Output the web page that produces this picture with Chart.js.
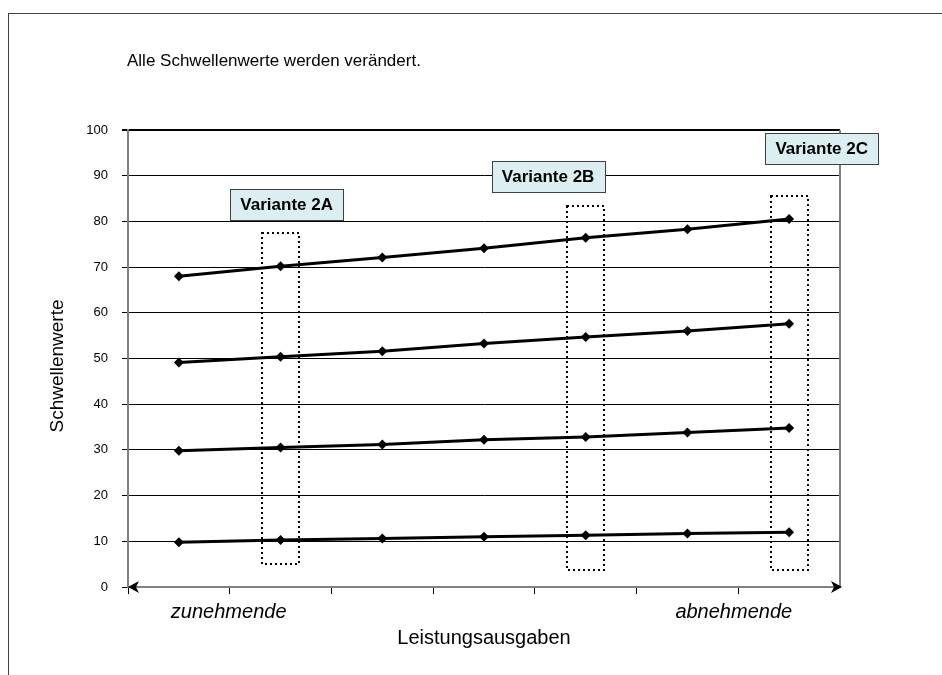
<!DOCTYPE html>
<html><head><meta charset="utf-8">
<script src="https://cdn.jsdelivr.net/npm/chart.js@4.4.1/dist/chart.umd.min.js"></script>
<style>html,body{margin:0;padding:0;background:#fff;}canvas{display:block;}</style>
</head><body>
<canvas id="c" width="942" height="675"></canvas>
<script>
// ---- data ----
const chartTitle = 'Alle Schwellenwerte werden verändert.';
const yAxisTitle = 'Schwellenwerte';
const xAxisTitle = 'Leistungsausgaben';
const categories = ['1', '2', '3', '4', '5', '6', '7'];
const categoryNotes = ['zunehmende', '', '', '', '', '', 'abnehmende'];
const series1 = [68.0, 70.2, 72.1, 74.1, 76.4, 78.3, 80.5];
const series2 = [49.1, 50.4, 51.6, 53.3, 54.7, 56.0, 57.6];
const series3 = [29.8, 30.5, 31.2, 32.2, 32.8, 33.8, 34.8];
const series4 = [9.8, 10.3, 10.6, 11.0, 11.3, 11.7, 12.0];
const yMin = 0, yMax = 100, yStep = 10;
const variantNames = ['Variante 2A', 'Variante 2B', 'Variante 2C'];
const variantCategory = [1, 4, 6];
const variantTop = [77.5, 83.4, 85.6];
const variantBottom = [5.0, 3.8, 3.8];
const variantLabelX = [1.06, 3.63, 6.32];
const variantLabelY = [83.8, 89.8, 96.0];

const FONT = '"Liberation Sans", Arial, sans-serif';

const decorPlugin = {
  id: 'decor',
  beforeDraw(chart) {
    const ctx = chart.ctx;
    ctx.save();
    ctx.fillStyle = '#fff';
    ctx.fillRect(0, 0, chart.width, chart.height);
    // outer frame
    ctx.strokeStyle = '#404040';
    ctx.lineWidth = 1;
    ctx.strokeRect(8.5, 13.5, 1000, 1000);
    // title
    ctx.fillStyle = '#000';
    ctx.font = '17px ' + FONT;
    ctx.textAlign = 'left';
    ctx.textBaseline = 'alphabetic';
    ctx.fillText(chartTitle, 127, 66);
    ctx.restore();
  },
  afterDraw(chart) {
    const ctx = chart.ctx;
    const a = chart.chartArea;
    const xs = chart.scales.x, ys = chart.scales.y;
    ctx.save();
    // right border of plot area
    ctx.strokeStyle = '#808080';
    ctx.lineWidth = 2;
    ctx.beginPath();
    ctx.moveTo(a.right, a.top);
    ctx.lineTo(a.right, a.bottom);
    ctx.stroke();
    // x axis line with arrows
    const y0 = ys.getPixelForValue(0);
    ctx.beginPath();
    ctx.moveTo(a.left + 4, y0);
    ctx.lineTo(a.right - 4, y0);
    ctx.stroke();
    ctx.fillStyle = '#000';
    // left arrow
    ctx.beginPath();
    ctx.moveTo(a.left, y0);
    ctx.lineTo(a.left + 11, y0 - 6);
    ctx.lineTo(a.left + 8, y0);
    ctx.lineTo(a.left + 11, y0 + 6);
    ctx.closePath();
    ctx.fill();
    // right arrow
    ctx.beginPath();
    ctx.moveTo(a.right + 2, y0);
    ctx.lineTo(a.right - 9, y0 - 6);
    ctx.lineTo(a.right - 6, y0);
    ctx.lineTo(a.right - 9, y0 + 6);
    ctx.closePath();
    ctx.fill();

    // dotted boxes
    ctx.strokeStyle = '#000';
    ctx.lineWidth = 2;
    ctx.setLineDash([2, 3]);
    for (let i = 0; i < variantNames.length; i++) {
      const xl = xs.getPixelForValue(variantCategory[i] - 0.18);
      const xr = xs.getPixelForValue(variantCategory[i] + 0.18);
      const yt = ys.getPixelForValue(variantTop[i]);
      const yb = ys.getPixelForValue(variantBottom[i]);
      ctx.strokeRect(Math.round(xl), Math.round(yt), Math.round(xr - xl), Math.round(yb - yt));
    }
    ctx.setLineDash([]);

    // variant labels
    ctx.font = 'bold 17px ' + FONT;
    ctx.textAlign = 'center';
    ctx.textBaseline = 'middle';
    for (let i = 0; i < variantNames.length; i++) {
      const cx = xs.getPixelForValue(variantLabelX[i]);
      const cy = ys.getPixelForValue(variantLabelY[i]);
      const w = ctx.measureText(variantNames[i]).width + 20;
      const h = 31;
      const bx = Math.round(cx - w / 2) + 0.5, by = Math.round(cy - h / 2) + 0.5;
      ctx.fillStyle = '#dbeff2';
      ctx.fillRect(bx, by, Math.round(w), h);
      ctx.strokeStyle = '#404040';
      ctx.lineWidth = 1;
      ctx.strokeRect(bx, by, Math.round(w), h);
      ctx.fillStyle = '#000';
      ctx.fillText(variantNames[i], cx, cy + 1);
    }

    // category notes
    ctx.font = 'italic 20px ' + FONT;
    ctx.textBaseline = 'alphabetic';
    ctx.fillStyle = '#000';
    const last = categoryNotes.length - 1;
    categoryNotes.forEach((t, i) => {
      if (!t) return;
      const px = xs.getPixelForValue(i);
      if (i === 0) { ctx.textAlign = 'left'; ctx.fillText(t, px - 8, 618); }
      else if (i === last) { ctx.textAlign = 'right'; ctx.fillText(t, px + 3, 618); }
      else { ctx.textAlign = 'center'; ctx.fillText(t, px, 618); }
    });

    // axis titles
    ctx.font = '20px ' + FONT;
    ctx.textAlign = 'center';
    ctx.fillText(xAxisTitle, 484, 644);
    ctx.save();
    ctx.translate(62.5, 366);
    ctx.rotate(-Math.PI / 2);
    ctx.font = '19px ' + FONT;
    ctx.fillText(yAxisTitle, 0, 0);
    ctx.restore();
    ctx.restore();
  }
};

const ds = (data) => ({
  data,
  borderColor: '#000',
  backgroundColor: '#000',
  borderWidth: 3,
  pointStyle: 'rectRot',
  pointRadius: 5,
  pointBorderWidth: 0,
  pointBackgroundColor: '#000',
  tension: 0,
  fill: false
});

new Chart(document.getElementById('c'), {
  type: 'line',
  data: {
    labels: categories,
    datasets: [ds(series1), ds(series2), ds(series3), ds(series4)]
  },
  options: {
    responsive: false,
    animation: false,
    devicePixelRatio: 1,
    layout: { padding: { top: 130, right: 102, left: 0, bottom: 0 } },
    plugins: { legend: { display: false }, tooltip: { enabled: false }, title: { display: false } },
    scales: {
      x: {
        type: 'category',
        offset: true,
        ticks: { display: false },
        border: { display: false },
        grid: {
          offset: true,
          drawOnChartArea: false,
          drawTicks: true,
          tickLength: 7,
          tickColor: (c) => (c.type === 'tick' ? '#000' : 'rgba(0,0,0,0)'),
          tickWidth: 1
        },
        afterFit(s) { s.height = 88; }
      },
      y: {
        min: yMin, max: yMax,
        ticks: {
          stepSize: yStep,
          color: '#000',
          font: { family: FONT, size: 13 },
          padding: 14
        },
        border: { display: true, color: '#808080', width: 2 },
        grid: {
          color: '#000',
          lineWidth: (c) => (c.tick && c.tick.value === yMax ? 2 : 1),
          drawTicks: true,
          tickLength: 6,
          tickColor: '#000'
        },
        afterFit(s) { s.width = 128; }
      }
    }
  },
  plugins: [decorPlugin]
});
</script>
</body></html>
